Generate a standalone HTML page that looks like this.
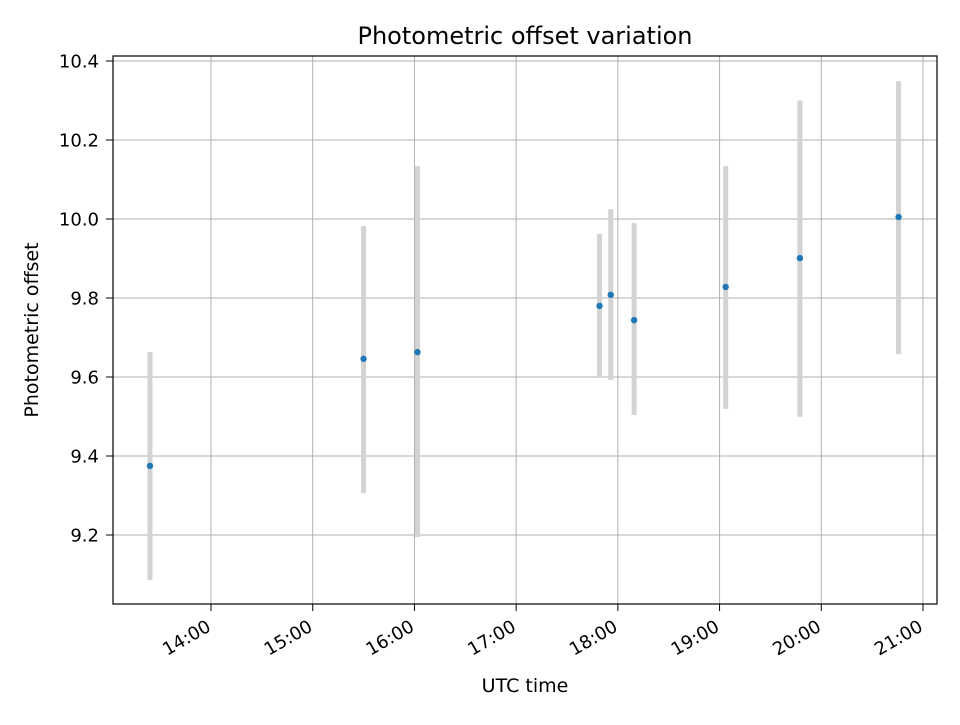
<!DOCTYPE html>
<html><head><meta charset="utf-8"><style>
body{margin:0;background:#fff}
svg text{font-family:"DejaVu Sans","Liberation Sans",sans-serif;fill:#000}
</style></head><body>
<svg id="c" width="960" height="720" xmlns="http://www.w3.org/2000/svg">
<rect width="960" height="720" fill="#fff"/>
<g id="grid"></g>
<g id="bars"></g>
<g id="pts"></g>
<rect x="113" y="56" width="824" height="548" fill="none" stroke="#000" stroke-width="1.2"/>
<g id="ticks"></g>
<text x="525" y="44" font-size="24" text-anchor="middle">Photometric offset variation</text>
<text x="525" y="692" font-size="19" text-anchor="middle">UTC time</text>
<text transform="translate(38,330) rotate(-90)" font-size="19" text-anchor="middle">Photometric offset</text>
</svg>
<script>
const times=[13.40,15.50,16.03,17.82,17.93,18.16,19.06,19.79,20.76];
const values=[9.375,9.646,9.663,9.780,9.808,9.744,9.828,9.901,10.005];
const lows=[9.086,9.306,9.195,9.600,9.592,9.504,9.519,9.499,9.658];
const highs=[9.663,9.982,10.134,9.962,10.025,9.990,10.134,10.300,10.349];
const xTicks=[14,15,16,17,18,19,20,21];
const xTickLabels=["14:00","15:00","16:00","17:00","18:00","19:00","20:00","21:00"];
const yTicks=[9.2,9.4,9.6,9.8,10.0,10.2,10.4];
const yTickLabels=["9.2","9.4","9.6","9.8","10.0","10.2","10.4"];
const NS="http://www.w3.org/2000/svg";
const X=h=>211+(h-14)*101.714;
const Y=v=>535-(v-9.2)*395;
function mk(t,a,p){const e=document.createElementNS(NS,t);for(const k in a)e.setAttribute(k,a[k]);p.appendChild(e);return e;}
const grid=document.getElementById('grid'),ticks=document.getElementById('ticks'),bars=document.getElementById('bars'),pts=document.getElementById('pts');
xTicks.forEach((t,i)=>{const x=X(t);
 const g=mk('line',{x1:x,x2:x,y1:56,y2:604,stroke:'#b0b0b0','stroke-width':1},grid);
 
 const tk=mk('line',{x1:x,x2:x,y1:604,y2:611,stroke:'#000'},ticks);
 
 const tx=mk('text',{x:x+1,y:630,'font-size':18,'text-anchor':'end',transform:`rotate(-30 ${x+1} 630)`},ticks);
 tx.textContent=xTickLabels[i];
 
});
yTicks.forEach((t,i)=>{const y=Y(t);
 const g=mk('line',{x1:113,x2:937,y1:y,y2:y,stroke:'#b0b0b0','stroke-width':1},grid);
 
 const tk=mk('line',{x1:106,x2:113,y1:y,y2:y,stroke:'#000'},ticks);
 
 const tx=mk('text',{x:99,y:y+6.5,'font-size':18,'text-anchor':'end'},ticks);
 tx.textContent=yTickLabels[i];
 
});
times.forEach((t,i)=>{const x=X(t);
 const b=mk('line',{x1:x,x2:x,y1:Y(lows[i]),y2:Y(highs[i]),stroke:'#d3d3d3','stroke-width':5},bars);
 
 const p=mk('circle',{cx:x,cy:Y(values[i]),r:3.2,fill:'#1f77b4'},pts);
 
});
</script>
</body></html>
